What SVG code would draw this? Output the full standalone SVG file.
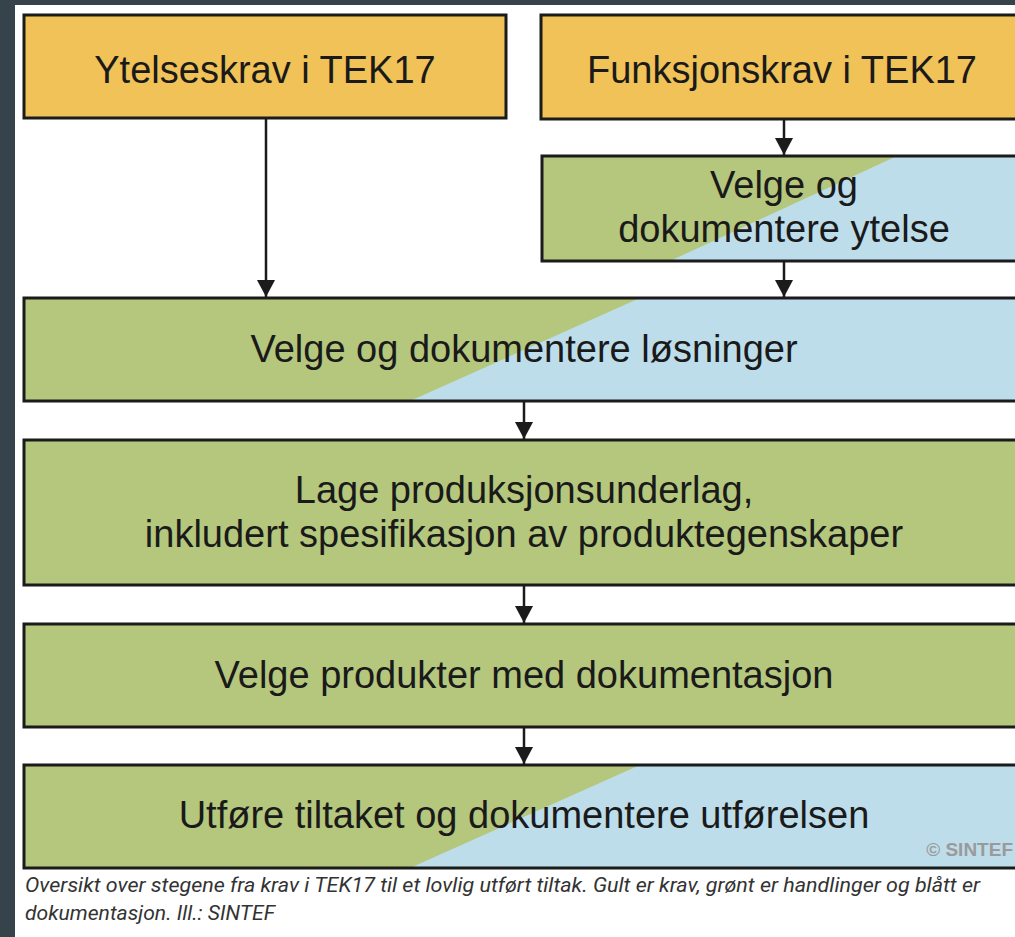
<svg xmlns="http://www.w3.org/2000/svg" width="1015" height="937" viewBox="0 0 1015 937">
  <defs>
    <style>
      .box { stroke: #1b1b1b; stroke-width: 3; }
      .yellow { fill: #F0C257; }
      .green { fill: #B4C77D; }
      .blue { fill: #BEDDEB; }
      .outline { fill: none; stroke: #1b1b1b; stroke-width: 3; }
      .label { font-family: "Liberation Sans", Arial, sans-serif; font-size: 38px; fill: #1a1a1a; text-anchor: middle; }
      .conn { stroke: #1b1b1b; stroke-width: 2.5; fill: none; marker-end: url(#arrow); }
      .caption { font-family: Roboto, "Liberation Sans", sans-serif; font-style: italic; font-size: 21px; fill: #333333; }
      .copy { font-family: "Liberation Sans", Arial, sans-serif; font-weight: bold; font-size: 19px; fill: #9a9a9a; text-anchor: end; }
    </style>
    <marker id="arrow" markerUnits="userSpaceOnUse" markerWidth="20" markerHeight="20" viewBox="0 0 20 20" refX="18" refY="10" orient="auto">
      <path d="M1,1 L18,10 L1,19 Z" fill="#1b1b1b"/>
    </marker>
  </defs>

  <rect x="0" y="0" width="1015" height="937" fill="#37434b"/>
  <rect x="15" y="5" width="1000" height="932" fill="#ffffff"/>

  <g id="connectors">
    <line class="conn" x1="266" y1="118" x2="266" y2="297"/>
    <line class="conn" x1="784" y1="119" x2="784" y2="155"/>
    <line class="conn" x1="784" y1="261" x2="784" y2="297"/>
    <line class="conn" x1="524" y1="401" x2="524" y2="439"/>
    <line class="conn" x1="524" y1="585" x2="524" y2="623"/>
    <line class="conn" x1="524" y1="727" x2="524" y2="764"/>
  </g>

  <g id="node-ytelseskrav">
    <rect class="box yellow" x="24" y="15" width="482" height="103"/>
    <text class="label" x="265" y="83">Ytelseskrav i TEK17</text>
  </g>

  <g id="node-funksjonskrav">
    <rect class="box yellow" x="541" y="15" width="500" height="104"/>
    <text class="label" x="782" y="83">Funksjonskrav i TEK17</text>
  </g>

  <g id="node-velge-ytelse">
    <rect class="green" x="542" y="156" width="500" height="105"/>
    <polygon class="blue" points="897,156 1042,156 1042,261 670,261"/>
    <rect class="outline" x="542" y="156" width="500" height="105"/>
    <text class="label" x="784" y="198">Velge og</text>
    <text class="label" x="784" y="242">dokumentere ytelse</text>
  </g>

  <g id="node-velge-losninger">
    <rect class="green" x="24" y="298" width="1020" height="103"/>
    <polygon class="blue" points="640,298 1044,298 1044,401 410,401"/>
    <rect class="outline" x="24" y="298" width="1020" height="103"/>
    <text class="label" x="524" y="362">Velge og dokumentere løsninger</text>
  </g>

  <g id="node-produksjonsunderlag">
    <rect class="box green" x="24" y="440" width="1020" height="145"/>
    <text class="label" x="524" y="503">Lage produksjonsunderlag,</text>
    <text class="label" x="524" y="547">inkludert spesifikasjon av produktegenskaper</text>
  </g>

  <g id="node-velge-produkter">
    <rect class="box green" x="24" y="624" width="1020" height="103"/>
    <text class="label" x="524" y="688">Velge produkter med dokumentasjon</text>
  </g>

  <g id="node-utfore">
    <rect class="green" x="24" y="765" width="1020" height="103"/>
    <polygon class="blue" points="640,765 1044,765 1044,868 410,868"/>
    <rect class="outline" x="24" y="765" width="1020" height="103"/>
    <text class="label" x="524" y="828">Utføre tiltaket og dokumentere utførelsen</text>
    <text class="copy" x="1013" y="856">© SINTEF</text>
  </g>

  <g id="caption">
    <text class="caption" x="25" y="892" textLength="955" lengthAdjust="spacingAndGlyphs">Oversikt over stegene fra krav i TEK17 til et lovlig utført tiltak. Gult er krav, grønt er handlinger og blått er</text>
    <text class="caption" x="25" y="920" textLength="250" lengthAdjust="spacingAndGlyphs">dokumentasjon. Ill.: SINTEF</text>
  </g>
</svg>
